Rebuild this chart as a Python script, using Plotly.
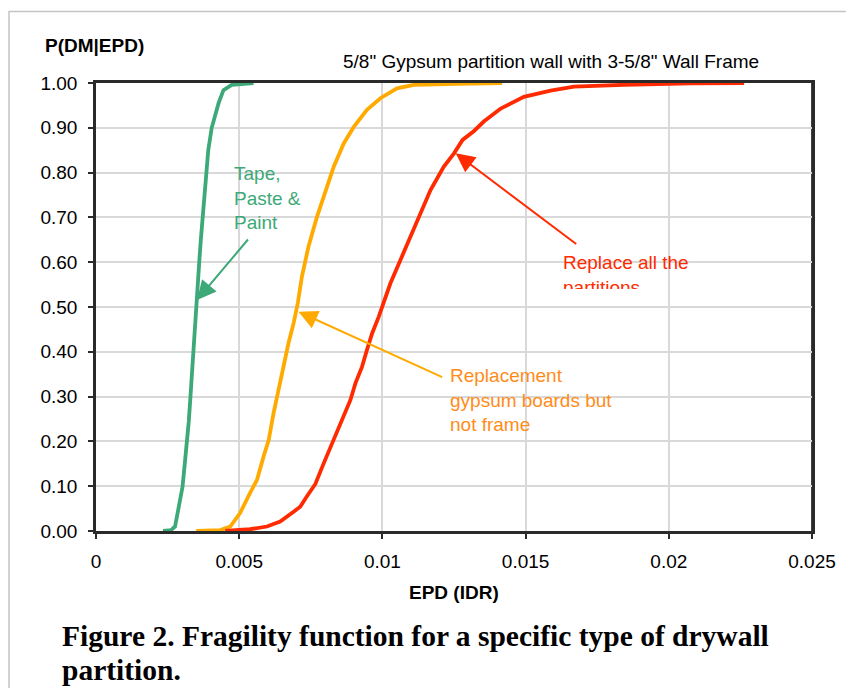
import plotly.graph_objects as go

# ---- data ----
green_x = [0.00234, 0.00262, 0.00276, 0.00285, 0.00291, 0.00302, 0.00310, 0.00318, 0.00324,
           0.00329, 0.00335, 0.00340, 0.00345, 0.00350, 0.00356, 0.00361, 0.00366, 0.00372,
           0.00377, 0.00383, 0.00392, 0.00404, 0.00428, 0.00445, 0.00474, 0.00550]
green_p = [0.000, 0.002, 0.010, 0.040, 0.069, 0.098, 0.150, 0.196, 0.245,
           0.292, 0.345, 0.397, 0.450, 0.498, 0.550, 0.605, 0.650, 0.700,
           0.750, 0.800, 0.850, 0.900, 0.955, 0.984, 0.996, 1.000]

orange_x = [0.00350, 0.00434, 0.00469, 0.00503, 0.00538, 0.00562, 0.00585, 0.00603, 0.00620,
            0.00637, 0.00655, 0.00672, 0.00690, 0.00705, 0.00719, 0.00742, 0.00771, 0.00801,
            0.00830, 0.00865, 0.00900, 0.00946, 0.00993, 0.01051, 0.01110, 0.01260, 0.01418]
orange_p = [0.000, 0.002, 0.010, 0.040, 0.085, 0.114, 0.166, 0.203, 0.263,
            0.315, 0.367, 0.419, 0.464, 0.510, 0.568, 0.635, 0.700, 0.761,
            0.813, 0.865, 0.902, 0.940, 0.966, 0.988, 0.996, 0.998, 1.000]

red_x = [0.00451, 0.00538, 0.00597, 0.00643, 0.00690, 0.00713, 0.00736, 0.00766, 0.00795,
         0.00830, 0.00859, 0.00888, 0.00906, 0.00929, 0.00946, 0.00964, 0.00987, 0.01003,
         0.01028, 0.01063, 0.01098, 0.01133, 0.01168, 0.01214, 0.01250, 0.01280, 0.01320,
         0.01354, 0.01413, 0.01494, 0.01587, 0.01669, 0.01843, 0.02077, 0.02263]
red_p = [0.000, 0.004, 0.010, 0.021, 0.043, 0.054, 0.077, 0.105, 0.151,
         0.203, 0.248, 0.292, 0.330, 0.367, 0.404, 0.441, 0.478, 0.505,
         0.553, 0.605, 0.657, 0.709, 0.761, 0.813, 0.843, 0.873, 0.893,
         0.914, 0.943, 0.969, 0.983, 0.992, 0.996, 0.999, 1.000]

x_tickvals = [0, 0.005, 0.01, 0.015, 0.02, 0.025]
x_ticktext = ["0", "0.005", "0.01", "0.015", "0.02", "0.025"]

GREEN = "#3da878"
ORANGE = "#ffaa00"
ORANGE_TXT = "#ff8c1a"
RED = "#ff2a00"
SANS = "Liberation Sans, Arial, sans-serif"
SERIF = "Liberation Serif, Times New Roman, serif"

# plot-area geometry in screen pixels (page body has an 8px margin)
OFF = 8
L, R, T, B = 96, 812, 83, 531
W, H = 854 - OFF, 696 - 2 * OFF


def xp(px):
    return (px - L) / (R - L)


def yp(py):
    return (B - py) / (B - T)


fig = go.Figure()
for xs, ps, c in [(green_x, green_p, GREEN), (orange_x, orange_p, ORANGE), (red_x, red_p, RED)]:
    fig.add_trace(go.Scatter(x=xs, y=ps, mode="lines", line=dict(color=c, width=3.8),
                             showlegend=False, hoverinfo="skip"))

axis_common = dict(showgrid=True, gridcolor="#d9d9d9", gridwidth=1.5, zeroline=False,
                   showline=True, linecolor="#2a2a2a", linewidth=2.5, mirror=True,
                   ticks="outside", ticklen=5, tickwidth=1.5, tickcolor="#2a2a2a",
                   tickfont=dict(family=SANS, size=19, color="#000"), layer="below traces")

fig.update_layout(
    width=W, height=H,
    margin=dict(l=L - OFF, r=854 - R, t=T - OFF, b=(H + OFF) - B, pad=0),
    paper_bgcolor="white", plot_bgcolor="white",
    xaxis=dict(range=[0, 0.025], tickvals=x_tickvals, ticktext=x_ticktext,
               ticklabelstandoff=6, **axis_common),
    yaxis=dict(range=[0, 1], dtick=0.1, tickformat=".2f", ticklabelstandoff=7, **axis_common),
    showlegend=False,
)

shapes = [
    # outer light frame of the figure
    dict(type="rect", xref="paper", yref="paper", x0=xp(9), y0=yp(11.5), x1=xp(880), y1=yp(730),
         line=dict(color="#c4c4c4", width=1.5), fillcolor="rgba(0,0,0,0)", layer="below"),
    # thicker right border of the plot area
    dict(type="line", xref="paper", yref="paper", x0=xp(813), x1=xp(813), y0=0, y1=1,
         line=dict(color="#404040", width=4), layer="between"),
]
fig.update_layout(shapes=shapes)

ann = []
ann.append(dict(text='5/8" Gypsum partition wall with 3-5/8" Wall Frame', xref="paper", yref="paper",
                x=xp(341), y=yp(61), xanchor="left", yanchor="middle", showarrow=False,
                font=dict(family=SANS, size=19, color="#000")))
ann.append(dict(text="<b>P(DM|EPD)</b>", xref="paper", yref="paper", x=xp(43), y=yp(46),
                xanchor="left", yanchor="middle", showarrow=False,
                font=dict(family=SANS, size=19, color="#000")))
ann.append(dict(text="<b>EPD (IDR)</b>", xref="paper", yref="paper", x=0.5, y=yp(592),
                xanchor="center", yanchor="middle", showarrow=False,
                font=dict(family=SANS, size=19, color="#000")))
ann.append(dict(text="<b>Figure 2. Fragility function for a specific type of drywall</b>",
                xref="paper", yref="paper", x=xp(60), y=yp(636), xanchor="left", yanchor="middle",
                showarrow=False, font=dict(family=SERIF, size=29.5, color="#000")))
ann.append(dict(text="<b>partition.</b>", xref="paper", yref="paper", x=xp(60), y=yp(670),
                xanchor="left", yanchor="middle", showarrow=False,
                font=dict(family=SERIF, size=29.5, color="#000")))

# curve labels
ann.append(dict(text="Tape,<br>Paste &<br>Paint", xref="paper", yref="paper", x=xp(233), y=yp(162),
                xanchor="left", yanchor="top", align="left", showarrow=False, borderpad=0,
                font=dict(family=SANS, size=19, color=GREEN)))
ann.append(dict(text="Replacement<br>gypsum boards but<br>not frame", xref="paper", yref="paper",
                x=xp(449), y=yp(364), xanchor="left", yanchor="top", align="left", showarrow=False,
                borderpad=0, font=dict(family=SANS, size=19, color=ORANGE_TXT)))
ann.append(dict(text="Replace all the<br>partitions", xref="paper", yref="paper",
                x=xp(562), y=yp(251), xanchor="left", yanchor="top", align="left", showarrow=False,
                borderpad=0, font=dict(family=SANS, size=19, color=RED)))
# the reference text box clips the second line; mask its lower half
ann.append(dict(text=" ", xref="paper", yref="paper", x=xp(556), y=yp(289), xanchor="left",
                yanchor="top", showarrow=False, width=110, height=14, bgcolor="white",
                borderpad=0, borderwidth=0, font=dict(size=10)))

# arrows (head at x/y, tail at ax/ay) in data coordinates
for hx, hy, tx, ty, c in [(0.00353, 0.5156, 0.00535, 0.654, GREEN),
                          (0.00707, 0.4895, 0.01214, 0.342, ORANGE),
                          (0.01256, 0.843, 0.01682, 0.638, RED)]:
    ann.append(dict(text="", x=hx, y=hy, ax=tx, ay=ty, xref="x", yref="y", axref="x", ayref="y",
                    showarrow=True, arrowhead=2, arrowsize=1.9, arrowwidth=2, arrowcolor=c,
                    standoff=0))

fig.update_layout(annotations=ann)

fig.write_html("out.html")
